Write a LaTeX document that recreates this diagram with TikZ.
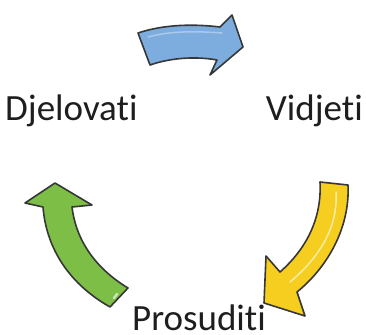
\documentclass[tikz,border=0pt]{standalone}
\usepackage{fontspec}
\setmainfont{Carlito}[Ligatures=NoCommon]
\usepackage{xcolor}
\usepackage{tikz}

\definecolor{edgegray}{RGB}{55,55,55}
\definecolor{seeblue}{RGB}{125,172,222}
\definecolor{judgeyellow}{RGB}{246,206,32}
\definecolor{actgreen}{RGB}{124,190,70}

\begin{document}
\begin{tikzpicture}[x=1pt, y=-1pt,
        word/.style={inner sep=0pt, font=\fontsize{37}{40}\selectfont, text={rgb,255:red,30;green,30;blue,30}},
        bigarrow/.style={draw=edgegray, line width=1.6pt, line join=round},
        gloss/.style={draw=white, line width=1.5pt, opacity=0.6, line cap=round}]
        \useasboundingbox (0,0) rectangle (366,334);
        \node[word, anchor=base west] (djel) at (5,121) {Djelovati};
        \node[word, anchor=base east] (vid) at (363,121) {Vidjeti};
        \node[word, anchor=base west] (pros) at (132,330) {Prosuditi};
        % vidjeti step
        \path[bigarrow, fill=seeblue] (138,33) .. controls (165,24) and (195,24) .. (220,27)
            -- (232,15) -- (243,47) -- (210,75) -- (217,60)
            .. controls (195,56) and (170,58) .. (150,65) -- cycle;
        \draw[gloss, opacity=0.35] (148,37) .. controls (170,31) and (195,31) .. (222,33);
        % prosuditi step
        \path[bigarrow, fill=judgeyellow] (320,182) -- (348,185)
            .. controls (350,225) and (330,265) .. (297,292)
            -- (305,316) -- (264,303) -- (266,256) -- (280,272)
            .. controls (305,250) and (322,220) .. (320,182) -- cycle;
        \draw[gloss] (336,192) .. controls (338,225) and (322,255) .. (290,282);
        % djelovati step
        \path[bigarrow, fill=actgreen] (55,183) -- (92,205) -- (72,207)
            .. controls (76,240) and (95,268) .. (128,288)
            -- (110,307) .. controls (66,282) and (46,245) .. (43,207)
            -- (25,203) -- cycle;
        \draw[gloss, line width=2.5pt] (114,298) -- (117,294);
\end{tikzpicture}
\end{document}
